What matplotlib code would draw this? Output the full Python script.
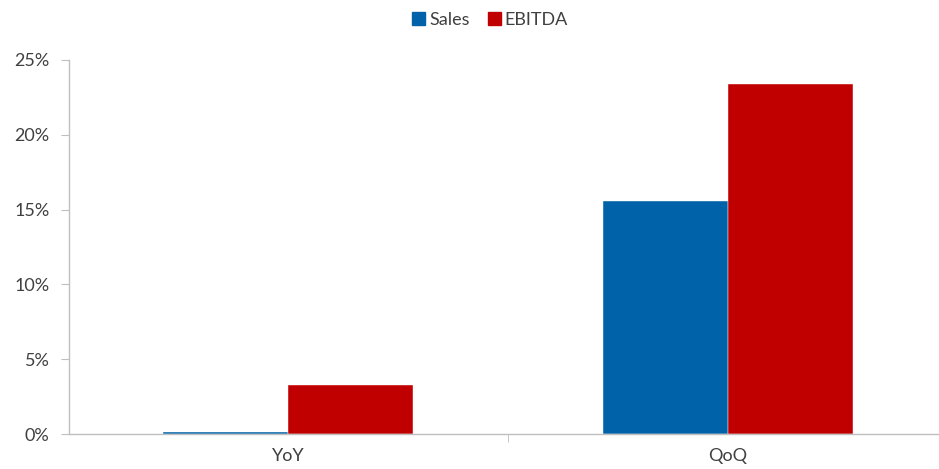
import matplotlib
matplotlib.use("Agg")
import matplotlib.pyplot as plt
from matplotlib.ticker import FuncFormatter, FixedLocator
from matplotlib.patches import Patch
import numpy as np

categories = ["YoY", "QoQ"]
sales = [0.15, 15.6]
ebitda = [3.27, 23.4]
yticks = [0, 5, 10, 15, 20, 25]

plt.rcParams['font.family'] = ['Lato', 'DejaVu Sans']

fig = plt.figure(figsize=(9.39, 4.69), dpi=100)
ax = fig.add_axes([69/939, 1-434/469, 1-69/939, (434-60)/469])

x = np.arange(len(categories))
w = 0.285
blue = "#0062A8"
red = "#C00000"
ax.bar(x - w/2, sales, w, color=blue, label="Sales", edgecolor="white", linewidth=0.3)
ax.bar(x + w/2, ebitda, w, color=red, label="EBITDA", edgecolor="white", linewidth=0.3)

ax.set_xlim(-219/440, 1 + 211/440)
ax.set_ylim(0, 25)
ax.set_yticks(yticks)
ax.yaxis.set_major_formatter(FuncFormatter(lambda v, p: f"{int(v)}%"))
ax.set_xticks(x)
ax.set_xticklabels(categories)
ax.xaxis.set_minor_locator(FixedLocator([-0.5, 0.5, 1.5]))

for s in ["top", "right"]:
    ax.spines[s].set_visible(False)
for s in ["left", "bottom"]:
    ax.spines[s].set_color("#BFBFBF")
    ax.spines[s].set_linewidth(1.0)

txt = "#404040"
ax.tick_params(axis="y", length=6, color="#BFBFBF", labelsize=13, labelcolor=txt, pad=8)
ax.tick_params(axis="x", which="major", length=0, labelsize=13, labelcolor=txt, pad=10)
ax.tick_params(axis="x", which="minor", length=6, color="#BFBFBF")

handles = [Patch(color=blue, label="Sales"), Patch(color=red, label="EBITDA")]
fig.legend(handles=handles, loc="center", bbox_to_anchor=(490/939, 1-20/469), ncol=2,
           frameon=False, fontsize=13, handlelength=0.75, handleheight=0.75,
           handletextpad=0.2, columnspacing=1.0, labelcolor=txt)

fig.savefig("out.png", dpi=100)
